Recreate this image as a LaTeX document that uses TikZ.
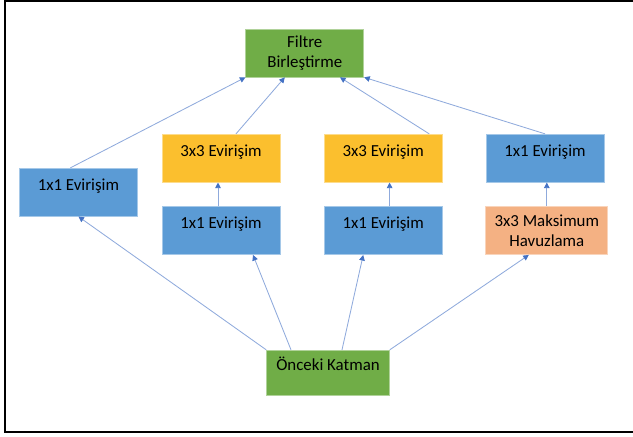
\documentclass[tikz,border=0pt]{standalone}
\usepackage{fontspec}
\setmainfont{Carlito}
\usetikzlibrary{arrows.meta,positioning}
\definecolor{colorMavi}{HTML}{5B9BD5}
\definecolor{colorSari}{HTML}{FBBF2E}
\definecolor{colorYesil}{HTML}{70AD47}
\definecolor{colorTuruncu}{HTML}{F4B183}
\definecolor{colorOk}{HTML}{8FAADC}
\definecolor{colorUc}{HTML}{4472C4}
\tikzset{
   every path/.style={>={Triangle[length=1.4mm,width=1.4mm,color=colorUc]}},
   kutu/.style={rectangle,inner sep=0pt,minimum width=2.95cm,minimum height=1.2cm,
      align=center,font=\fontsize{12}{14.5}\selectfont,line width=0.5pt},
   tek/.style={text height=0.3cm,text depth=0.4cm},
   mavi/.style={kutu,tek,fill=colorMavi,draw=colorMavi!55!white},
   sari/.style={kutu,tek,fill=colorSari,draw=colorSari!55!white},
   yesil/.style={kutu,fill=colorYesil,draw=colorYesil!55!white},
   turuncu/.style={kutu,fill=colorTuruncu,draw=colorTuruncu!55!white},
   con/.style={->,color=colorOk,line width=0.6pt},
   cerceve/.style={line width=1.5pt,black},
}

\begin{document}
\begin{tikzpicture}
      \useasboundingbox (0,0) rectangle (15.825,10.925);
      \draw[cerceve] (16,10.91) -- (0.125,10.91) -- (0.125,0.125) -- (16,0.125);
      % ust ve alt
      \node[yesil] (fb) at (7.62,9.6) {Filtre\\Birleştirme};
      \node[yesil,tek,minimum width=3.07cm,minimum height=1.12cm] (ok) at (8.2,1.61) {Önceki Katman};
      % dallar
      \node[mavi] (l1) at (1.96,6.12) {1x1 Evirişim};
      \node[sari] (a3) at (5.525,6.97) {3x3 Evirişim};
      \node[mavi] (a1) at (5.525,5.16) {1x1 Evirişim};
      \node[sari] (b3) at (9.58,6.97) {3x3 Evirişim};
      \node[mavi] (b1) at (9.58,5.16) {1x1 Evirişim};
      \node[mavi] (c1) at (13.625,6.97) {1x1 Evirişim};
      \node[turuncu,minimum width=3.05cm] (cm) at (13.67,5.16) {3x3 Maksimum\\Havuzlama};
      \draw[con] ([xshift=-0.2cm]l1.north) -- (fb.south west);
      \draw[con] ([xshift=0.375cm]a3.north) -- ([xshift=-0.5cm]fb.south);
      \draw[con] ([xshift=1.15cm]b3.north) -- ([xshift=0.88cm]fb.south);
      \draw[con] (c1.north) -- (fb.south east);
      \draw[con] ([xshift=-0.075cm]a1.north) -- ([xshift=-0.075cm]a3.south);
      \draw[con] ([xshift=0.16cm]b1.north) -- ([xshift=0.16cm]b3.south);
      \draw[con] (cm.north) -- (cm.north |- c1.south);
      \draw[con] (ok.north west) -- (l1.south);
      \draw[con] ([xshift=-0.925cm]ok.north) -- ([xshift=0.8cm]a1.south);
      \draw[con] ([xshift=0.35cm]ok.north) -- ([xshift=-0.5cm]b1.south);
      \draw[con] (ok.north east) -- ([xshift=-0.45cm]cm.south);
    \end{tikzpicture}
\end{document}
